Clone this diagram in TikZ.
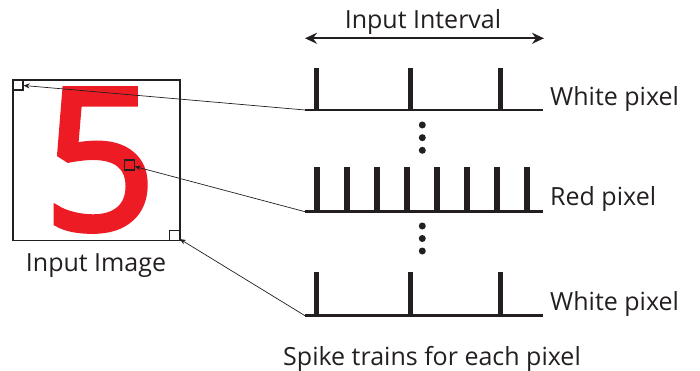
\documentclass[tikz,border=0pt]{standalone}
\usepackage{fontspec}
\setmainfont{Open Sans}
\newfontfamily\digitfont{Open Sans}[FakeBold=3]
\usetikzlibrary{arrows.meta}
\definecolor{ink}{HTML}{231F20}
\definecolor{fivered}{HTML}{ED1C24}
\begin{document}
\begin{tikzpicture}[x=1pt,y=-1pt,
  lbl/.style={font=\fontsize{25}{30}\selectfont, text=ink, inner sep=0pt},
  pix/.style={draw=ink, line width=1.1pt, minimum size=10pt, inner sep=0pt},
  spike/.style={draw=ink, line width=5.5pt},
  base/.style={draw=ink, line width=2.6pt},
  link/.style={draw=ink, line width=0.7pt, -{Stealth[length=6pt,width=5pt]}},
  dotmark/.style={circle, fill=ink, minimum size=7pt, inner sep=0pt}]
\useasboundingbox (0,0) rectangle (700,371);

% input image: frame and the red digit
\node[anchor=base, text=fivered, inner sep=0pt, text depth=0pt, text height=140pt,
      font=\digitfont\fontsize{196}{196}\selectfont] (digit) at (100,229) {5};
\draw[ink, line width=1.2pt] (13,80) rectangle (180,240.7);
\node[pix] (sqA) at (18,85) {};
\node[pix] (sqB) at (129.3,165) {};
\node[pix] (sqC) at (174.3,235.7) {};
\node[lbl, anchor=base] (imglbl) at (96,271.7) {Input Image};

% input interval
\node[lbl, anchor=base] (ivlbl) at (423,29) {Input Interval};
\coordinate (ivL) at (305,38.3);
\coordinate (ivR) at (544,38.3);
\draw[ink, line width=2pt, {Stealth[length=12pt,width=11pt,inset=4pt]}-{Stealth[length=12pt,width=11pt,inset=4pt]}] (ivL) -- (ivR);

% spike trains
\coordinate (tA) at (305,110);
\coordinate (tB) at (305,211.7);
\coordinate (tC) at (305,315.7);
\draw[base] (tA) -- (543,110);
\draw[base] (tB) -- (543,211.7);
\draw[base] (tC) -- (543,315.7);
\foreach \x in {316.7,410.7,500.7} {
  \draw[spike] (\x,110) -- (\x,68.3);
  \draw[spike] (\x,315.7) -- (\x,271.7);
}
\foreach \x in {317,347,377,407,437,467,497,527}
  \draw[spike] (\x,211.7) -- (\x,166.7);

% ellipses between trains
\foreach \y/\n in {125/a,137.7/b,150.3/c}
  \node[dotmark] (du\n) at (422.3,\y) {};
\foreach \y/\n in {226/a,238.5/b,251/c}
  \node[dotmark] (dl\n) at (422.3,\y) {};

% labels
\node[lbl, anchor=base west] (wA) at (550,105.7) {White pixel};
\node[lbl, anchor=base west] (rB) at (550,205.7) {Red pixel};
\node[lbl, anchor=base west] (wC) at (550,310.7) {White pixel};
\node[lbl, anchor=base] (caption) at (432,365) {Spike trains for each pixel};

% pixel-to-train links
\draw[link] (tA) -- (sqA);
\draw[link] (tB) -- (sqB);
\draw[link] (tC) -- (sqC);
\end{tikzpicture}
\end{document}
